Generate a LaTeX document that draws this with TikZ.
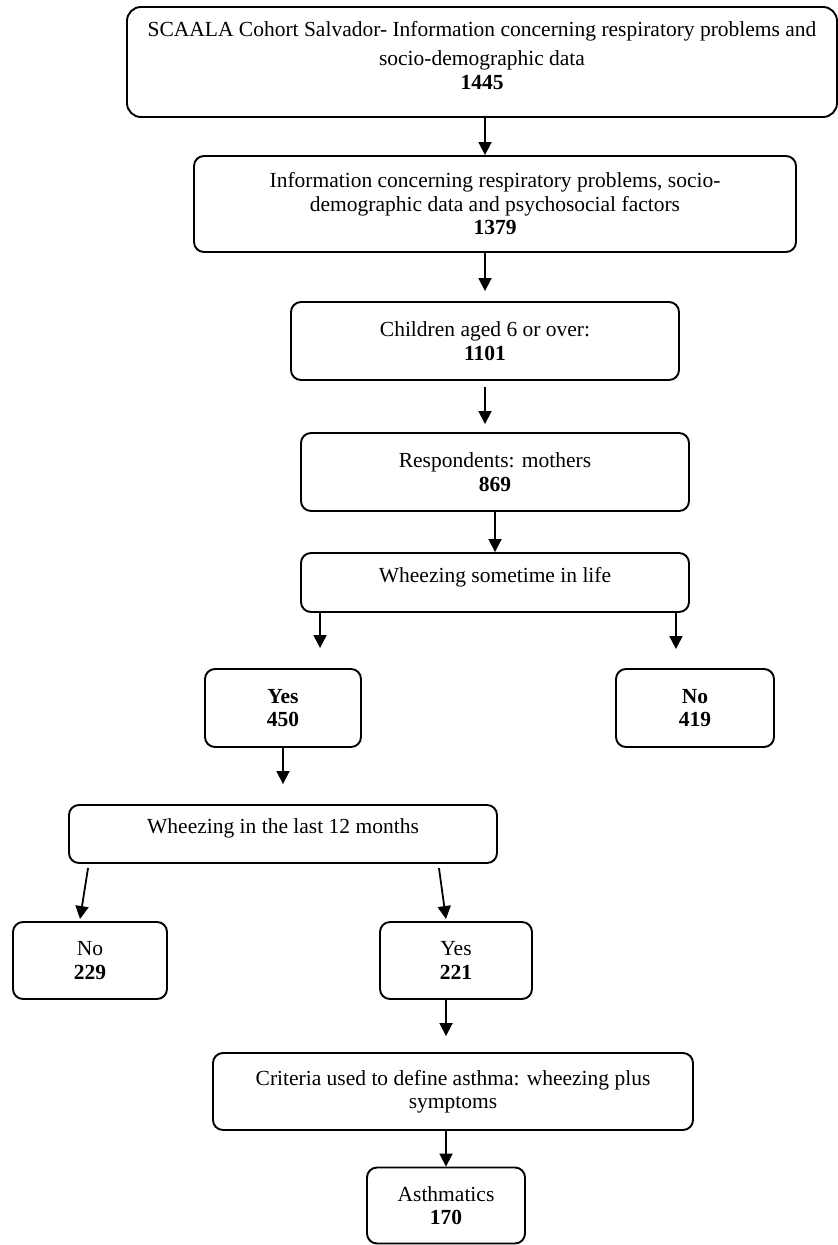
\documentclass[tikz,border=0pt]{standalone}
\usepackage{fontspec}
\setmainfont{Liberation Serif}
\usetikzlibrary{arrows.meta,calc}
\begin{document}
\begin{tikzpicture}[x=1pt,y=-1pt,
  box/.style={draw=black, line width=1.9pt, rounded corners=10pt, align=center, inner sep=0pt,
    font=\fontsize{21.5}{23.5}\selectfont},
  arr/.style={line width=1.8pt, -{Triangle[length=13pt,width=13pt]}}]
\useasboundingbox (0,0) rectangle (838,1245);

\node[box, minimum width=710pt, minimum height=110pt, rounded corners=14pt, text depth=14pt] (b1) at (482,62)
  {SCAALA Cohort Salvador- Information concerning respiratory problems and\\[6pt] socio-demographic data\\ \textbf{1445}};
\node[box, minimum width=602pt, minimum height=96pt] (b2) at (495,204)
  {Information concerning respiratory problems, socio-\\ demographic data and psychosocial factors\\ \textbf{1379}};
\node[box, minimum width=388pt, minimum height=78pt] (b3) at (485,341)
  {Children aged 6 or over:\\ \textbf{1101}};
\node[box, minimum width=388pt, minimum height=78pt] (b4) at (495,472)
  {Respondents: mothers\\ \textbf{869}};
\node[box, minimum width=388pt, minimum height=59pt, text depth=15pt] (b5) at (495,582.5)
  {Wheezing sometime in life};
\node[box, minimum width=156pt, minimum height=78pt] (yes) at (283,708)
  {\textbf{Yes}\\ \textbf{450}};
\node[box, minimum width=158pt, minimum height=78pt] (no) at (695,708)
  {\textbf{No}\\ \textbf{419}};
\node[box, minimum width=428pt, minimum height=58pt, text depth=16pt] (w12) at (283,834)
  {Wheezing in the last 12 months};
\node[box, minimum width=154pt, minimum height=77pt] (no2) at (90,960.5)
  {No\\ \textbf{229}};
\node[box, minimum width=152pt, minimum height=77pt] (y2) at (456,960.5)
  {Yes\\ \textbf{221}};
\node[box, minimum width=480pt, minimum height=77pt] (crit) at (453,1091.5)
  {Criteria used to define asthma: wheezing plus\\ symptoms};
\node[box, minimum width=158pt, minimum height=76pt] (asth) at (446,1205.5)
  {Asthmatics\\ \textbf{170}};

\coordinate (p1) at ([xshift=20pt]b5.south west);
\coordinate (p2) at ([xshift=-14pt]b5.south east);

\draw[arr] (b1.south -| b3.north) -- (b2.north -| b3.north);
\draw[arr, shorten >=10pt] (b2.south -| b3.north) -- (b3.north);
\draw[arr, shorten <=6pt, shorten >=8pt] (b3.south) -- (b4.north -| b3.south);
\draw[arr] (b4.south) -- (b5.north);
\draw[arr, shorten >=20pt] (p1) -- (p1 |- yes.north);
\draw[arr, shorten >=19pt] (p2) -- (p2 |- no.north);
\draw[arr, shorten >=20pt] (yes.south) -- (yes.south |- w12.north);
\draw[arr] ([xshift=20pt,yshift=-4pt]w12.south west) -- ([xshift=-10pt,yshift=2pt]no2.north);
\draw[arr] ([xshift=-59pt,yshift=-4pt]w12.south east) -- ([xshift=-10pt,yshift=2pt]y2.north);
\draw[arr, shorten >=16pt] (y2.south -| asth.north) -- (crit.north -| asth.north);
\draw[arr] (crit.south -| asth.north) -- (asth.north);
\end{tikzpicture}
\end{document}
